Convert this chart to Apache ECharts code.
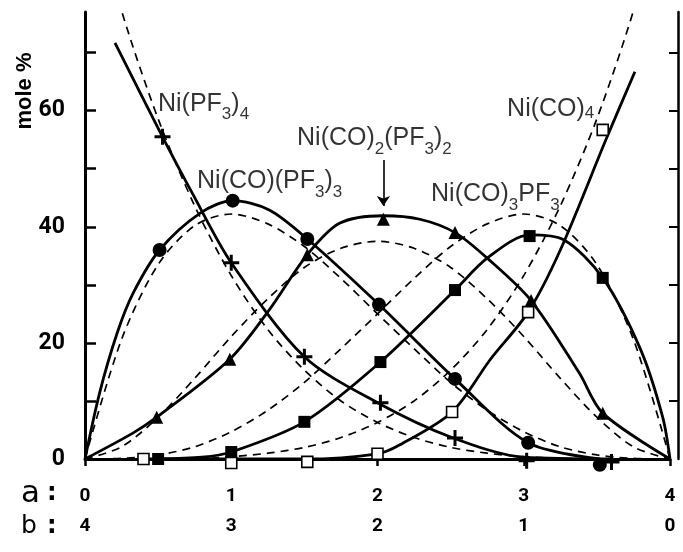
<!DOCTYPE html>
<html>
<head>
<meta charset="utf-8">
<script src="https://cdn.jsdelivr.net/npm/echarts@6/dist/echarts.min.js"></script>
<style>
html, body { margin: 0; padding: 0; background: #fff; }
#chart { width: 683px; height: 552px; }
</style>
</head>
<body>
<div id="chart"></div>
<script>
// x positions of the dashed (statistical) curves
var gridA = [0, 0.25, 0.5, 0.75, 1, 1.25, 1.5, 1.75, 2, 2.25, 2.5, 2.75, 3, 3.25, 3.5, 3.75, 4];

// dashed curves
var dashPF3_4   = [100, 77.2, 58.6, 43.6, 31.6, 22.3, 15.3, 10.0, 6.3, 3.7, 2.0, 1.0, 0.4, 0.1, 0, 0, 0];
var dashCO1     = [0, 20.6, 33.5, 40.2, 42.2, 40.5, 36.6, 31.1, 25.0, 19.0, 13.2, 8.4, 4.7, 2.1, 0.7, 0.1, 0];
var dashCO2     = [0, 2.1, 7.2, 13.9, 21.1, 27.6, 33.0, 36.3, 37.5, 36.3, 33.0, 27.6, 21.1, 13.9, 7.2, 2.1, 0];
var dashCO3     = [0, 0.1, 0.7, 2.1, 4.7, 8.4, 13.2, 19.0, 25.0, 31.1, 36.6, 40.5, 42.2, 40.2, 33.5, 20.6, 0];
var dashCO4     = [0, 0, 0, 0, 0.4, 1.0, 2.0, 3.7, 6.3, 10.0, 15.3, 22.3, 31.6, 43.6, 58.6, 77.2, 100];

// solid (fitted) curves, [a, mole %]
var curvePF3_4 = [[0.205, 71.7], [0.53, 55.5], [0.74, 45.5], [1, 33.8], [1.5, 17.6], [2, 9.7], [2.5, 3.8], [3, 0.3], [3.6, 0]];
var curveCO1 = [[0, 0], [0.1, 11.4], [0.22, 21.7], [0.33, 28.6], [0.51, 36], [0.79, 42.4], [1.01, 44.5], [1.26, 42.9], [1.52, 37.9], [2.01, 26.6], [2.53, 13.8], [3.03, 2.8], [3.52, 0]];
var curveCO2 = [[0, 0], [0.33, 4.5], [0.49, 7.2], [0.99, 17.2], [1.26, 25.7], [1.52, 35.2], [1.74, 40.6], [2.04, 41.9], [2.29, 41.3], [2.53, 39], [2.75, 34.6], [3.05, 27.3], [3.38, 14.8], [3.54, 7.9], [4, 0]];
var curveCO3 = [[0.5, 0], [0.8, 0.3], [1, 1.2], [1.5, 6.4], [2.02, 16.7], [2.53, 29.1], [2.75, 34.6], [3.04, 38.6], [3.27, 37.8], [3.54, 31.2], [3.8, 18.8], [3.95, 7.2], [4, 0]];
var curveCO4 = [[0.4, 0], [1.5, 0], [2, 0.9], [2.15, 2.4], [2.51, 8.1], [2.77, 17.1], [3.03, 25.3], [3.25, 36], [3.57, 55.5], [3.76, 66.7]];

// measured points
var ptsPF3_4 = [[0.53, 55.5], [1, 33.8], [1.5, 17.6], [2.02, 9.7], [2.53, 3.6], [3.02, -0.3], [3.6, -0.5]];
var ptsCO1   = [[0.51, 36], [1.01, 44.5], [1.52, 37.9], [2.01, 26.6], [2.53, 13.8], [3.03, 2.8], [3.52, -1]];
var ptsCO2   = [[0.49, 7.2], [0.99, 17.2], [1.52, 35.2], [2.04, 41.3], [2.53, 39], [3.05, 27.3], [3.54, 7.9]];
var ptsCO3   = [[0.5, 0], [1, 1.2], [1.5, 6.4], [2.02, 16.7], [2.53, 29.1], [3.04, 38.4], [3.54, 31.2]];
var ptsCO4   = [[0.4, 0], [1, -0.7], [1.52, -0.5], [2, 0.9], [2.51, 8.1], [3.03, 25.3], [3.54, 56.7]];

var aLabels = ['0', '1', '2', '3', '4'];
var bLabels = ['4', '3', '2', '1', '0'];
var yLabelValues = [0, 20, 40, 60];

// compound names (rich text) and where they sit
var names = [
  { value: [0.499, 60.6], text: '{n|Ni(PF}{s|3}{n|)}{s|4}' },
  { value: [0.766, 47.2], text: '{n|Ni(CO)(PF}{s|3}{n|)}{s|3}' },
  { value: [1.45, 54.6], text: '{n|Ni(CO)}{s|2}{n|(PF}{s|3}{n|)}{s|2}' },
  { value: [2.366, 45.0], text: '{n|Ni(CO)}{s|3}{n|PF}{s|3}' },
  { value: [2.886, 60.2], text: '{n|Ni(CO)}{t|4}' }
];

var plusSym = 'path://M6.5,0H9.5V6.5H16V9.5H9.5V16H6.5V9.5H0V6.5H6.5Z';
var numFont = 'Roboto, sans-serif';

function zip(arr) {
  return gridA.map(function (a, i) { return [a, arr[i]]; });
}
function dashed(arr) {
  return { type: 'line', data: zip(arr), smooth: 0.3, showSymbol: false, silent: true,
    lineStyle: { color: '#000', width: 1.7, type: [8, 6] }, z: 2 };
}
function solid(pts, extra) {
  var s = { type: 'line', data: pts, smooth: 0.3, showSymbol: false, silent: true,
    lineStyle: { color: '#000', width: 2.8 }, z: 3 };
  if (extra) s.markLine = extra;
  return s;
}
function marks(pts, symbol, size, fill) {
  return { type: 'scatter', data: pts, symbol: symbol, symbolSize: size, clip: false, silent: true,
    itemStyle: { color: fill || '#000', borderColor: '#000', borderWidth: fill ? 1.6 : 0, opacity: 1 }, z: 5 };
}

var arrow = {
  silent: true, symbol: ['none', 'arrow'], symbolSize: 10,
  label: { show: false },
  lineStyle: { color: '#000', width: 1.6, type: 'solid' },
  data: [[{ coord: [2.04, 51.5] }, { coord: [2.04, 43.6] }]]
};

var chart = echarts.init(document.getElementById('chart'));
chart.setOption({
  animation: false,
  backgroundColor: '#fff',
  grid: { left: 85, right: 13, top: 12, bottom: 93 },
  xAxis: {
    type: 'value', min: 0, max: 4,
    axisLine: { lineStyle: { color: '#000', width: 3 } },
    axisTick: { show: true, length: 7, customValues: [0, 1, 2, 3, 4], lineStyle: { color: '#000', width: 2.5 } },
    axisLabel: {
      customValues: [0, 1, 2, 3, 4], margin: 22,
      formatter: function (v) { return '{a|' + aLabels[v] + '}\n{b|' + bLabels[v] + '}'; },
      rich: {
        a: { fontSize: 19, fontWeight: 'bold', fontFamily: numFont, color: '#000', lineHeight: 30 },
        b: { fontSize: 19, fontWeight: 'bold', fontFamily: numFont, color: '#000', lineHeight: 30 }
      }
    },
    splitLine: { show: false }
  },
  yAxis: [{
    type: 'value', min: 0, max: 77, position: 'left',
    axisLine: { show: true, lineStyle: { color: '#000', width: 3 } },
    axisTick: { show: true, inside: true, length: 11, customValues: [0, 10, 20, 30, 40, 50, 60, 70], lineStyle: { color: '#000', width: 2.5 } },
    axisLabel: { customValues: yLabelValues, margin: 20, fontSize: 23, fontWeight: 'bold', fontFamily: numFont, color: '#000' },
    splitLine: { show: false }
  }, {
    type: 'value', min: 0, max: 77, position: 'right', offset: 8,
    axisLine: { show: true, lineStyle: { color: '#000', width: 2.5 } },
    axisTick: { show: true, inside: true, length: 9, customValues: [10, 20, 30, 40, 50, 60, 70], lineStyle: { color: '#000', width: 2 } },
    axisLabel: { show: false },
    splitLine: { show: false }
  }],
  graphic: [
    { type: 'text', x: 25, y: 91, rotation: Math.PI / 2,
      style: { text: 'mole %', fontSize: 22, fontWeight: 'bold', fontFamily: 'Liberation Sans', fill: '#000', align: 'center', verticalAlign: 'middle' } },
    { type: 'text', x: 21, y: 494, style: { text: 'a', fontSize: 31, fontFamily: 'DejaVu Sans', fill: '#000', align: 'left', verticalAlign: 'middle' } },
    { type: 'text', x: 47, y: 494, style: { text: ':', fontSize: 24, fontWeight: 'bold', fontFamily: 'DejaVu Sans', fill: '#000', align: 'left', verticalAlign: 'middle' } },
    { type: 'text', x: 21, y: 526, style: { text: 'b', fontSize: 25, fontFamily: 'DejaVu Sans', fill: '#000', align: 'left', verticalAlign: 'middle' } },
    { type: 'text', x: 47, y: 527, style: { text: ':', fontSize: 24, fontWeight: 'bold', fontFamily: 'DejaVu Sans', fill: '#000', align: 'left', verticalAlign: 'middle' } }
  ],
  series: [
    dashed(dashPF3_4), dashed(dashCO1), dashed(dashCO2), dashed(dashCO3), dashed(dashCO4),
    solid(curvePF3_4), solid(curveCO1), solid(curveCO2, arrow), solid(curveCO3), solid(curveCO4),
    marks(ptsPF3_4, plusSym, 16),
    marks(ptsCO1, 'circle', 14),
    marks(ptsCO2, 'triangle', 13),
    marks(ptsCO3, 'rect', 12),
    marks(ptsCO4, 'rect', 11, '#fff'),
    {
      type: 'scatter', data: names, symbolSize: 0, clip: false, silent: true, z: 10,
      label: {
        show: true, position: 'right', distance: 0, color: '#000',
        formatter: function (p) { return p.data.text; },
        rich: {
          n: { fontSize: 25, fontFamily: 'Liberation Sans', color: '#000', verticalAlign: 'top' },
          s: { fontSize: 17, fontFamily: 'Liberation Sans', color: '#000', verticalAlign: 'bottom', padding: [15, 0, 0, 0] },
          t: { fontSize: 17, fontFamily: 'Liberation Sans', color: '#000', verticalAlign: 'bottom', padding: [8, 0, 0, 0] }
        }
      }
    }
  ]
});
</script>
</body>
</html>
